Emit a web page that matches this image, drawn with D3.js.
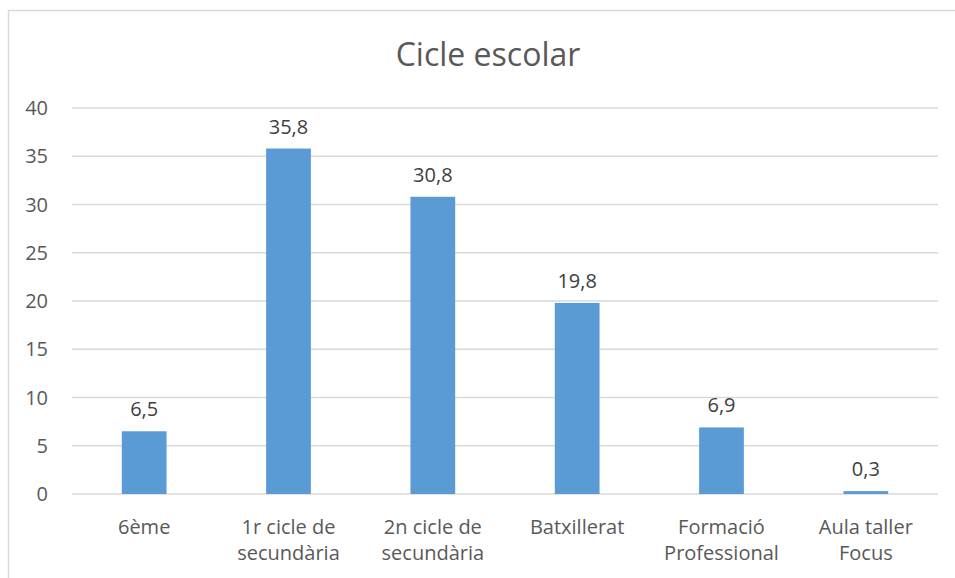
<!DOCTYPE html>
<html>
<head>
<meta charset="utf-8">
<script src="https://cdn.jsdelivr.net/npm/d3@7"></script>
<style>
  body { margin: 0; background: #fff; }
  svg { font-family: "Open Sans", "Noto Sans", sans-serif; }
</style>
</head>
<body>
<div id="chart"></div>
<script>
// data
const categories = [
  ["6ème"],
  ["1r cicle de", "secundària"],
  ["2n cicle de", "secundària"],
  ["Batxillerat"],
  ["Formació", "Professional"],
  ["Aula taller", "Focus"]
];
const values = [6.5, 35.8, 30.8, 19.8, 6.9, 0.3];
const yTicks = [0, 5, 10, 15, 20, 25, 30, 35, 40];

const width = 955, height = 578;
const margin = { top: 108, right: 17, bottom: 84, left: 72 };

const svg = d3.select("#chart").append("svg")
  .attr("width", width)
  .attr("height", height);

// chart frame
svg.append("rect")
  .attr("x", 8.5).attr("y", 10.5)
  .attr("width", 960).attr("height", 600)
  .attr("fill", "none")
  .attr("stroke", "#d9d9d9")
  .attr("stroke-width", 1.5);

const x = d3.scaleBand()
  .domain(d3.range(categories.length))
  .range([margin.left, width - margin.right])
  .paddingInner(0.69)
  .paddingOuter(0.345);

const y = d3.scaleLinear()
  .domain([0, 40])
  .range([height - margin.bottom, margin.top]);

// gridlines
svg.selectAll(".grid")
  .data(yTicks)
  .join("line")
  .attr("class", "grid")
  .attr("x1", margin.left)
  .attr("x2", width - margin.right)
  .attr("y1", d => y(d))
  .attr("y2", d => y(d))
  .attr("stroke", "#d9d9d9")
  .attr("stroke-width", 1.5);

// y tick labels
svg.selectAll(".ytick")
  .data(yTicks)
  .join("text")
  .attr("class", "ytick")
  .attr("x", 48)
  .attr("y", d => y(d))
  .attr("dy", "0.35em")
  .attr("text-anchor", "end")
  .attr("fill", "#595959")
  .attr("font-size", 20)
  .text(d => d);

// bars
svg.selectAll(".bar")
  .data(values)
  .join("rect")
  .attr("class", "bar")
  .attr("x", (d, i) => x(i))
  .attr("width", x.bandwidth())
  .attr("y", d => y(d))
  .attr("height", d => y(0) - y(d))
  .attr("fill", "#5b9bd5");

// data labels
svg.selectAll(".label")
  .data(values)
  .join("text")
  .attr("class", "label")
  .attr("x", (d, i) => x(i) + x.bandwidth() / 2)
  .attr("y", d => y(d) - 15)
  .attr("text-anchor", "middle")
  .attr("fill", "#404040")
  .attr("font-size", 20)
  .text(d => d.toFixed(1).replace(".", ","));

// category labels
const cat = svg.selectAll(".cat")
  .data(categories)
  .join("text")
  .attr("class", "cat")
  .attr("text-anchor", "middle")
  .attr("fill", "#595959")
  .attr("font-size", 20);

cat.selectAll("tspan")
  .data((d, i) => d.map(line => ({ line, i })))
  .join("tspan")
  .attr("x", d => x(d.i) + x.bandwidth() / 2)
  .attr("y", (d, j) => 534 + j * 26)
  .text(d => d.line);

// title
svg.append("text")
  .attr("x", 488)
  .attr("y", 66)
  .attr("text-anchor", "middle")
  .attr("fill", "#595959")
  .attr("font-size", 32)
  .text("Cicle escolar");
</script>
</body>
</html>
